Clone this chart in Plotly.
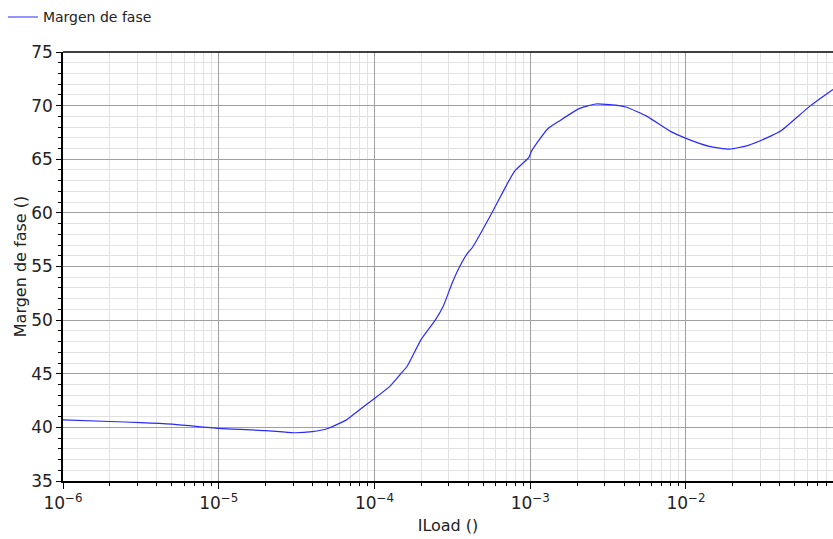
import numpy as np
import plotly.graph_objects as go

# log10 of ILoad and phase margin values
log_iload = [-6.0, -5.7, -5.5, -5.3, -5.0, -4.7, -4.52, -4.4, -4.3, -4.18, -4.1, -4.0,
             -3.90, -3.825, -3.79, -3.70, -3.61, -3.557, -3.503, -3.46, -3.40, -3.375,
             -3.25, -3.17, -3.10, -3.01, -2.99, -2.89, -2.81, -2.69, -2.58, -2.45,
             -2.38, -2.25, -2.1, -2.0, -1.85, -1.72, -1.6, -1.45, -1.39, -1.2, -1.056]
margen = [40.7, 40.55, 40.45, 40.3, 39.9, 39.7, 39.5, 39.6, 39.9, 40.7, 41.6, 42.7,
          43.85, 45.1, 45.7, 48.2, 50.0, 51.35, 53.4, 54.8, 56.3, 56.7,
          59.9, 62.1, 63.9, 65.15, 65.8, 67.8, 68.6, 69.7, 70.15, 70.05,
          69.85, 69.0, 67.6, 66.95, 66.2, 65.95, 66.3, 67.2, 67.65, 70.0, 71.5]
iload = [10 ** v for v in log_iload]

major_x = [1e-6, 1e-5, 1e-4, 1e-3, 1e-2]
major_x_text = ["10<sup>−6</sup>", "10<sup>−5</sup>", "10<sup>−4</sup>", "10<sup>−3</sup>", "10<sup>−2</sup>"]
minor_x = [m * d for d in [1e-6, 1e-5, 1e-4, 1e-3, 1e-2] for m in range(2, 10)]

font = "DejaVu Sans"

fig = go.Figure()
fig.add_trace(go.Scatter(x=iload, y=margen, mode="lines", name="Margen de fase",
                         line=dict(color="#2a2aff", width=1.2, shape="spline", smoothing=0.5)))

fig.update_layout(
    width=833, height=539,
    margin=dict(l=63, r=0, t=52, b=58),
    paper_bgcolor="white", plot_bgcolor="white",
    font=dict(family=font, color="#222"),
    showlegend=True,
    legend=dict(x=-0.078, y=1.118, xanchor="left", yanchor="top", orientation="h",
                font=dict(size=14, family=font), itemwidth=30,
                bgcolor="rgba(0,0,0,0)"),
    xaxis=dict(type="log", range=[-6, -1.056],
               tickmode="array", tickvals=major_x, ticktext=major_x_text,
               tickfont=dict(size=17), ticks="outside", ticklen=6, tickcolor="black",
               showgrid=True, gridcolor="#a0a0a0", gridwidth=1,
               showline=True, linecolor="black", linewidth=1.5, mirror=False,
               zeroline=False,
               minor=dict(tickmode="array", tickvals=minor_x, ticks="outside", ticklen=3,
                          tickcolor="black", showgrid=True, gridcolor="#e2e2e2", gridwidth=1),
               title=dict(text="ILoad ()", font=dict(size=16), standoff=8)),
    yaxis=dict(range=[35, 75], tickmode="linear", tick0=35, dtick=5,
               tickfont=dict(size=17), ticks="outside", ticklen=5, tickcolor="black",
               showgrid=True, gridcolor="#a0a0a0", gridwidth=1,
               showline=True, linecolor="black", linewidth=1.5, mirror=False,
               zeroline=False,
               minor=dict(dtick=1, ticks="outside", ticklen=3, tickcolor="black",
                          showgrid=True, gridcolor="#e2e2e2", gridwidth=1),
               title=dict(text="Margen de fase ()", font=dict(size=16), standoff=1)),
)

# top border line
fig.add_shape(type="line", xref="paper", yref="paper", x0=0, x1=1, y0=1, y1=1,
              line=dict(color="black", width=1.5))

fig.write_html("out.html")
